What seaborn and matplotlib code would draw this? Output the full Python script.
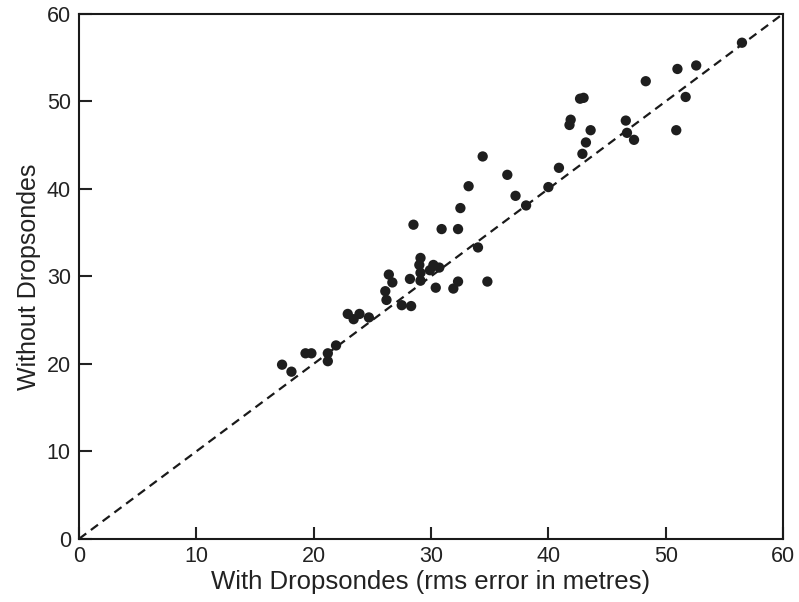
import seaborn as sns
import pandas as pd
import matplotlib.pyplot as plt

# rms error (m) with and without dropsondes
with_drop = [17.3, 18.1, 19.3, 19.8, 21.2, 21.2, 21.9, 22.9, 23.4, 23.9, 24.7,
             26.1, 26.2, 26.4, 26.7, 27.5, 28.3, 28.2, 29.1, 29.0, 29.1, 29.1,
             29.9, 30.2, 30.7, 30.4, 31.9, 32.3, 34.8, 34.0, 28.5, 30.9, 32.3,
             32.5, 33.2, 34.4, 36.5, 37.2, 38.1, 40.0, 40.9, 42.9, 43.2, 43.6,
             41.9, 41.8, 42.7, 43.0, 46.6, 46.7, 47.3, 48.3, 50.9, 51.0, 51.7,
             52.6, 56.5]
without_drop = [19.9, 19.1, 21.2, 21.2, 21.2, 20.3, 22.1, 25.7, 25.1, 25.7, 25.3,
                28.3, 27.3, 30.2, 29.3, 26.7, 26.6, 29.7, 32.1, 31.3, 30.4, 29.5,
                30.7, 31.3, 31.0, 28.7, 28.6, 29.4, 29.4, 33.3, 35.9, 35.4, 35.4,
                37.8, 40.3, 43.7, 41.6, 39.2, 38.1, 40.2, 42.4, 44.0, 45.3, 46.7,
                47.9, 47.3, 50.3, 50.4, 47.8, 46.4, 45.6, 52.3, 46.7, 53.7, 50.5,
                54.1, 56.7]

df = pd.DataFrame({'with': with_drop, 'without': without_drop})

sns.set_style('ticks')
plt.rcParams['font.family'] = ['Liberation Sans', 'DejaVu Sans']

fig = plt.figure(figsize=(7.99, 6.02), dpi=100)
ax = fig.add_axes([0.099, 0.105, 0.881, 0.872])

ax.plot([0, 60], [0, 60], color='#1a1a1a', linestyle=(0, (4, 2.6)), linewidth=1.6)
sns.scatterplot(data=df, x='with', y='without', ax=ax, color='#1e1e1e',
                s=55, edgecolor='none', zorder=3)

ax.set_xlim(0, 60)
ax.set_ylim(0, 60)
ax.set_xticks(range(0, 61, 10))
ax.set_yticks(range(0, 61, 10))
ax.tick_params(direction='in', length=9, width=1.5, labelsize=15.5,
               colors='#222222')
ax.tick_params(axis='x', pad=5)
ax.tick_params(axis='y', pad=6)
for sp in ax.spines.values():
    sp.set_linewidth(1.5)
    sp.set_color('#1a1a1a')

ax.set_xlabel('With Dropsondes (rms error in metres)', fontsize=18.5,
              color='#222222', labelpad=2)
ax.set_ylabel('Without Dropsondes', fontsize=18, color='#222222', labelpad=4)

plt.savefig('out.png', dpi=100)
